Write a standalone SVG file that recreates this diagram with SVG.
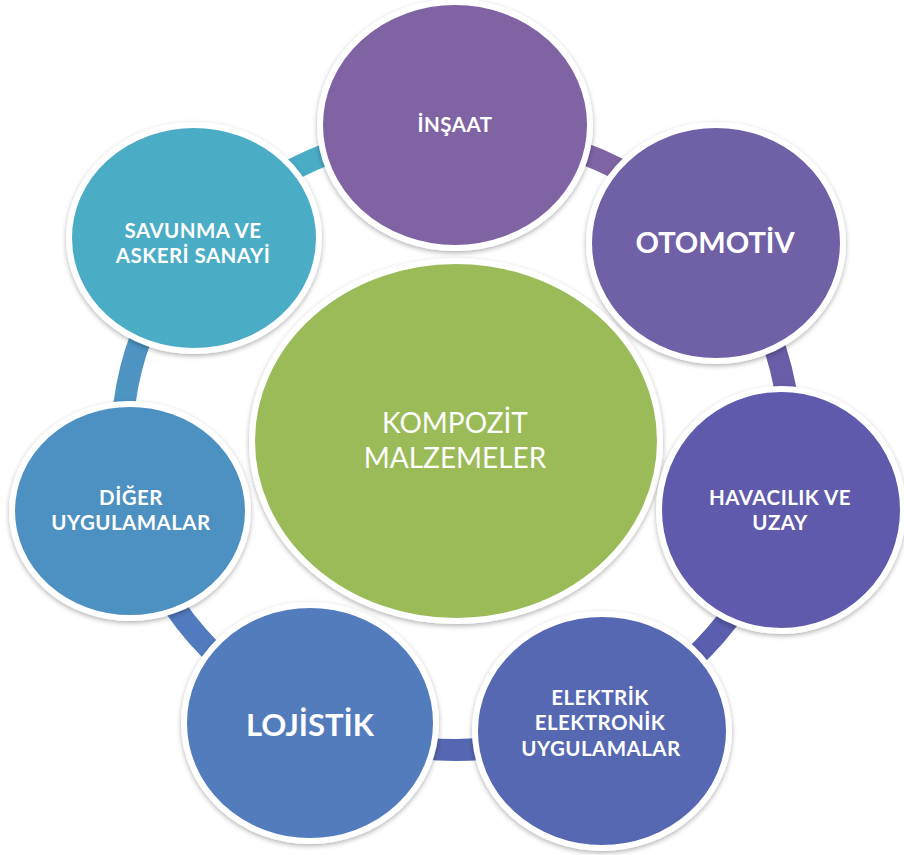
<svg xmlns="http://www.w3.org/2000/svg" width="904" height="855" viewBox="0 0 904 855">
  <defs>
    <filter id="shadow" x="-10%" y="-10%" width="120%" height="125%">
      <feDropShadow dx="0" dy="2" stdDeviation="2.5" flood-color="#000" flood-opacity="0.3"/>
    </filter>
    <style>
      .ring { fill: none; stroke-width: 22; stroke-linecap: butt; }
      .bubble { stroke: #ffffff; stroke-width: 6; filter: url(#shadow); }
      .label { fill: #ffffff; font-family: Lato, "Liberation Sans", sans-serif; font-weight: bold; text-anchor: middle; }
      .small { font-size: 20.5px; letter-spacing: 0.45px; }
      .big { font-size: 29px; }
      .hub { fill: #ffffff; font-family: Lato, "Liberation Sans", sans-serif; font-size: 28px; text-anchor: middle; }
    </style>
  </defs>
  <rect width="904" height="855" fill="#ffffff"/>

  <!-- ring of arcs joining neighbouring bubbles -->
  <g id="connectors">
    <path class="ring" stroke="#4BACC6" d="M198,243 A334,310 0 0 1 456,130"/>
    <path class="ring" stroke="#7E64A3" d="M456,130 A334,310 0 0 1 714,243"/>
    <path class="ring" stroke="#6A5DA8" d="M714,243 A334,310 0 0 1 781,510"/>
    <path class="ring" stroke="#5B5DAE" d="M781,510 A334,310 0 0 1 597,721"/>
    <path class="ring" stroke="#5766B2" d="M597,721 A334,310 0 0 1 315,721"/>
    <path class="ring" stroke="#517BBE" d="M315,721 A334,310 0 0 1 131,510"/>
    <path class="ring" stroke="#4E94C3" d="M131,510 A334,310 0 0 1 198,243"/>
  </g>

  <g id="center">
    <ellipse class="bubble" cx="456" cy="441" rx="204" ry="180" fill="#9BBB59"/>
    <text class="hub" x="455" y="433">KOMPOZİT</text>
    <text class="hub" x="455" y="468">MALZEMELER</text>
  </g>

  <g id="insaat">
    <ellipse class="bubble" cx="455" cy="125" rx="135" ry="123" fill="#8064A2"/>
    <text class="label small" x="455" y="132">İNŞAAT</text>
  </g>

  <g id="otomotiv">
    <ellipse class="bubble" cx="716" cy="243" rx="127" ry="118" fill="#7060A6"/>
    <text class="label big" x="715" y="253">OTOMOTİV</text>
  </g>

  <g id="havacilik">
    <ellipse class="bubble" cx="781" cy="510" rx="122" ry="121" fill="#5F5AAC"/>
    <text class="label small" x="780" y="505">HAVACILIK VE</text>
    <text class="label small" x="780" y="530">UZAY</text>
  </g>

  <g id="elektrik">
    <ellipse class="bubble" cx="602" cy="731" rx="127" ry="117" fill="#5767B1"/>
    <text class="label small" x="600" y="705">ELEKTRİK</text>
    <text class="label small" x="600" y="730">ELEKTRONİK</text>
    <text class="label small" x="601" y="756">UYGULAMALAR</text>
  </g>

  <g id="lojistik">
    <ellipse class="bubble" cx="310" cy="723" rx="126" ry="118" fill="#527BBD"/>
    <text class="label" x="310" y="736" font-size="31">LOJİSTİK</text>
  </g>

  <g id="diger">
    <ellipse class="bubble" cx="130" cy="511" rx="118" ry="107" fill="#4E91C2"/>
    <text class="label small" x="131" y="505">DİĞER</text>
    <text class="label small" x="131" y="530">UYGULAMALAR</text>
  </g>

  <g id="savunma">
    <ellipse class="bubble" cx="194" cy="238" rx="125" ry="113" fill="#4BACC6"/>
    <text class="label small" x="193" y="238">SAVUNMA VE</text>
    <text class="label small" x="193" y="263">ASKERİ SANAYİ</text>
  </g>
</svg>
